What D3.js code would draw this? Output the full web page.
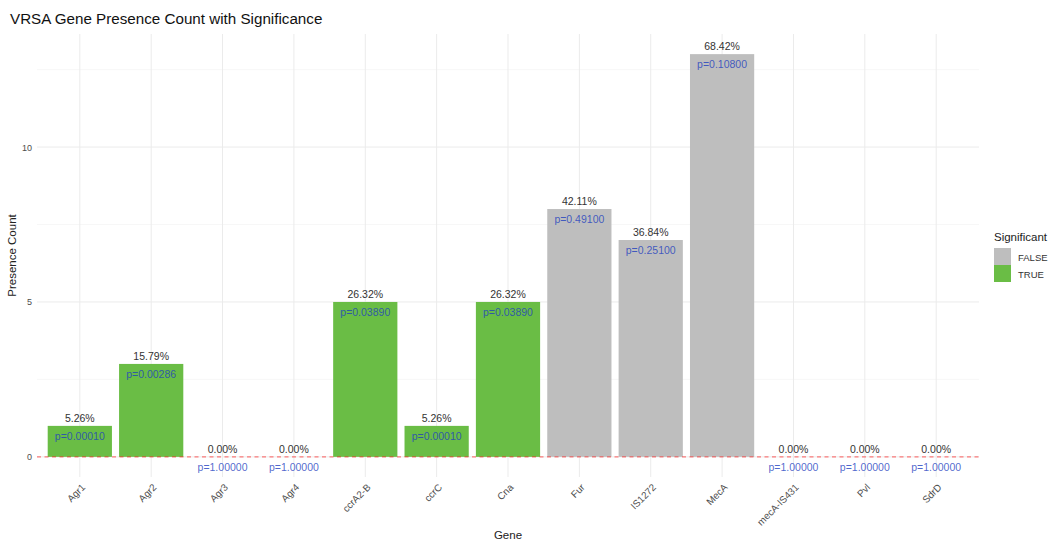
<!DOCTYPE html>
<html>
<head>
<meta charset="utf-8">
<script src="https://cdn.jsdelivr.net/npm/d3@7"></script>
<style>
  html, body { margin: 0; padding: 0; background: #ffffff; }
  svg { display: block; font-family: "Liberation Sans", Arial, sans-serif; }
</style>
</head>
<body>
<svg id="chart" width="1051" height="543"></svg>
<script>
// Gene presence counts among 19 VRSA isolates, with Fisher p-values
const genes = ["Agr1", "Agr2", "Agr3", "Agr4", "ccrA2-B", "ccrC", "Cna", "Fur", "IS1272", "MecA", "mecA-IS431", "Pvl", "SdrD"];
const counts = [1, 3, 0, 0, 5, 1, 5, 8, 7, 13, 0, 0, 0];
const percents = [5.26, 15.79, 0.00, 0.00, 26.32, 5.26, 26.32, 42.11, 36.84, 68.42, 0.00, 0.00, 0.00];
const pValues = [0.00010, 0.00286, 1.00000, 1.00000, 0.03890, 0.00010, 0.03890, 0.49100, 0.25100, 0.10800, 1.00000, 1.00000, 1.00000];
const significant = pValues.map(p => p < 0.05);
const yTicks = [0, 5, 10];
const yMinor = [2.5, 7.5, 12.5];
const legendKeys = ["FALSE", "TRUE"];

const rows = genes.map((g, i) => ({ gene: g, count: counts[i], pct: percents[i], p: pValues[i], sig: significant[i] }));

const svg = d3.select("#chart");
const panel = { left: 37, right: 979, top: 34, bottom: 477 };

// discrete axis: bars 0.9 wide, 0.6 units of space at each end
const x = d3.scaleBand().domain(genes).range([panel.left, panel.right]).paddingInner(0.1).paddingOuter(0.15);
// 5% expansion on the continuous axis
const yMax = d3.max(counts);
const pad = yMax * 0.05;
const y = d3.scaleLinear().domain([-pad, yMax + pad]).range([panel.bottom, panel.top]);
const fill = d3.scaleOrdinal().domain(legendKeys).range(["#bebebe", "#6abd45"]);
const cx = d => x(d) + x.bandwidth() / 2;

// grid
const grid = svg.append("g");
grid.selectAll("line.minor").data(yMinor).join("line")
  .attr("x1", panel.left).attr("x2", panel.right)
  .attr("y1", d => y(d)).attr("y2", d => y(d))
  .attr("stroke", "#f2f2f2").attr("stroke-width", 0.6);
grid.selectAll("line.major").data(yTicks).join("line")
  .attr("x1", panel.left).attr("x2", panel.right)
  .attr("y1", d => y(d)).attr("y2", d => y(d))
  .attr("stroke", "#ebebeb").attr("stroke-width", 1);
grid.selectAll("line.vert").data(genes).join("line")
  .attr("x1", cx).attr("x2", cx)
  .attr("y1", panel.top).attr("y2", panel.bottom)
  .attr("stroke", "#ebebeb").attr("stroke-width", 1);

// bars
svg.append("g").selectAll("rect").data(rows).join("rect")
  .attr("x", d => x(d.gene))
  .attr("width", x.bandwidth())
  .attr("y", d => y(d.count))
  .attr("height", d => y(0) - y(d.count))
  .attr("fill", d => fill(d.sig ? "TRUE" : "FALSE"));

// zero reference line
svg.append("line")
  .attr("x1", panel.left).attr("x2", panel.right)
  .attr("y1", y(0)).attr("y2", y(0))
  .attr("stroke", "red").attr("stroke-opacity", 0.5).attr("stroke-width", 1.4)
  .attr("stroke-dasharray", "4,3.5");

// percentage labels above bars
svg.append("g").selectAll("text").data(rows).join("text")
  .attr("x", d => cx(d.gene))
  .attr("y", d => y(d.count) - 4)
  .attr("text-anchor", "middle")
  .attr("font-size", 10.5)
  .attr("fill", "#333333")
  .text(d => d.pct.toFixed(2) + "%");

// p-value labels just under the bar top
svg.append("g").selectAll("text").data(rows).join("text")
  .attr("x", d => cx(d.gene))
  .attr("y", d => y(d.count) + 14)
  .attr("text-anchor", "middle")
  .attr("font-size", 10.5)
  .attr("fill", "#1f3fbf")
  .attr("fill-opacity", 0.8)
  .text(d => "p=" + d.p.toFixed(5));

// y axis labels
svg.append("g").selectAll("text").data(yTicks).join("text")
  .attr("x", 32).attr("y", d => y(d) + 3.5)
  .attr("text-anchor", "end")
  .attr("font-size", 9)
  .attr("fill", "#4d4d4d")
  .text(d => d);

// x axis labels, rotated 45 degrees
svg.append("g").selectAll("text").data(genes).join("text")
  .attr("transform", d => `translate(${cx(d) + 6},${panel.bottom + 11}) rotate(-45)`)
  .attr("text-anchor", "end")
  .attr("font-size", 9.8)
  .attr("fill", "#4d4d4d")
  .text(d => d);

// axis titles
svg.append("text")
  .attr("x", (panel.left + panel.right) / 2).attr("y", 539)
  .attr("text-anchor", "middle").attr("font-size", 11.5).attr("fill", "#222")
  .text("Gene");
svg.append("text")
  .attr("transform", `translate(16,${(panel.top + panel.bottom) / 2}) rotate(-90)`)
  .attr("text-anchor", "middle").attr("font-size", 11.5).attr("fill", "#222")
  .text("Presence Count");

// title
svg.append("text")
  .attr("x", 10).attr("y", 24)
  .attr("font-size", 15.2).attr("fill", "#111")
  .text("VRSA Gene Presence Count with Significance");

// legend
const legend = svg.append("g").attr("transform", "translate(994,236)");
legend.append("text").attr("x", 0).attr("y", 5)
  .attr("font-size", 11.5).attr("fill", "#222").text("Significant");
const keys = legend.selectAll("g.key").data(legendKeys).join("g")
  .attr("transform", (d, i) => `translate(0,${12 + i * 17})`);
keys.append("rect").attr("width", 17).attr("height", 17).attr("fill", d => fill(d));
keys.append("text").attr("x", 24).attr("y", 12.5)
  .attr("font-size", 9.5).attr("fill", "#333").text(d => d);
</script>
</body>
</html>
